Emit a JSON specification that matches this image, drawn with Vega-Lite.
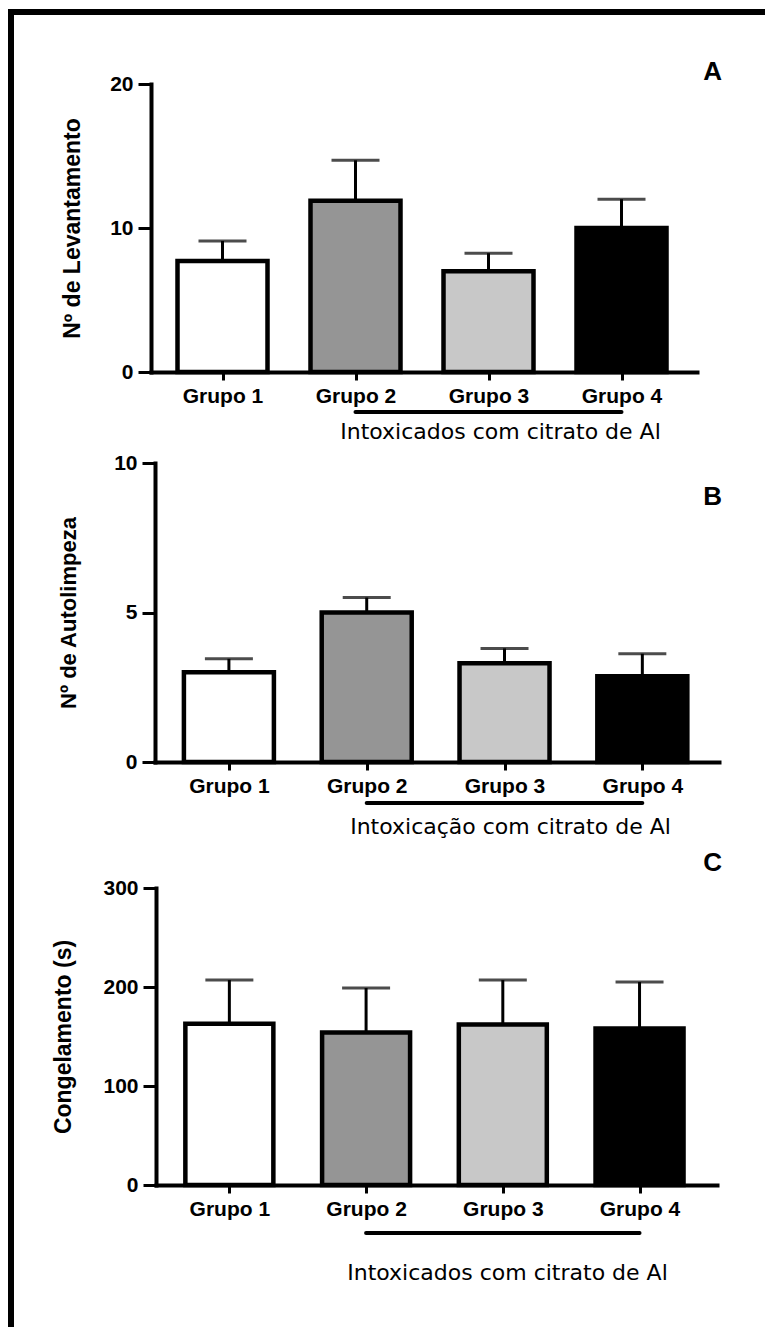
{
  "$schema": "https://vega.github.io/schema/vega-lite/v6.json",
  "background": "white",
  "padding": {"left": 8, "top": 9, "right": 0, "bottom": 0},
  "autosize": {"type": "pad"},
  "bounds": "flush",
  "spacing": 0,
  "config": {
    "view": {"stroke": null},
    "axis": {
      "grid": false,
      "domainColor": "#000000",
      "domainWidth": 4,
      "domainCap": "square",
      "tickColor": "#000000",
      "tickWidth": 3,
      "labelColor": "#000000",
      "labelFont": "Liberation Sans",
      "labelFontWeight": "bold",
      "labelFontSize": 21,
      "titleColor": "#000000",
      "titleFont": "Liberation Sans"
    },
    "axisY": {
      "tickSize": 13,
      "labelPadding": 5,
      "titleFontSize": 23,
      "titleFontWeight": "bold"
    },
    "axisX": {
      "tickSize": 8,
      "labelPadding": 5,
      "labelFontSize": 21,
      "labelFlush": false,
      "labelOverlap": false,
      "titleFont": "DejaVu Sans",
      "titleFontSize": 22,
      "titleFontWeight": "normal",
      "titleBaseline": "alphabetic",
      "titleAlign": "center"
    },
    "title": {
      "font": "Liberation Sans",
      "fontSize": 26,
      "fontWeight": "bold",
      "color": "#000000",
      "anchor": "end",
      "frame": "group",
      "baseline": "alphabetic"
    }
  },
  "vconcat": [
    {
      "width": 757,
      "height": 6,
      "data": {"values": []},
      "mark": "point",
      "encoding": {},
      "view": {"fill": "#000000", "stroke": null}
    },
    {
      "bounds": "flush",
      "spacing": 137,
      "hconcat": [
        {
          "width": 6,
          "height": 1312,
          "data": {"values": []},
          "mark": "point",
          "encoding": {},
          "view": {"fill": "#000000", "stroke": null}
        },
        {
          "bounds": "flush",
          "spacing": 91,
          "vconcat": [
            {
              "width": 546,
              "height": 357,
              "title": {"text": "A", "offset": -70, "dx": 25},
              "data": {"values": [
                {"g": 1, "grupo": "Grupo 1", "mean": 7.7, "upper": 9.1},
                {"g": 2, "grupo": "Grupo 2", "mean": 11.9, "upper": 14.7},
                {"g": 3, "grupo": "Grupo 3", "mean": 7.0, "upper": 8.25},
                {"g": 4, "grupo": "Grupo 4", "mean": 10.0, "upper": 12.0}
              ]},
              "encoding": {
                "x": {
                  "field": "g",
                  "type": "quantitative",
                  "scale": {"domain": [0.5, 4.53], "nice": false, "zero": false},
                  "title": "Intoxicados com citrato de Al",
                  "axis": {"values": [1, 2, 3, 4], "labelExpr": "'Grupo ' + datum.value", "titleX": 349, "titleY": 66}
                }
              },
              "layer": [
                {
                  "mark": {"type": "bar", "orient": "vertical", "size": 90, "stroke": "#000000", "strokeWidth": 4.5},
                  "encoding": {
                    "y": {
                      "field": "mean",
                      "type": "quantitative",
                      "scale": {"domain": [0, 20], "range": [357, 69], "nice": false},
                      "axis": {"values": [0, 10, 20], "titlePadding": 25},
                      "title": "Nº de Levantamento"
                    },
                    "color": {
                      "field": "grupo",
                      "type": "nominal",
                      "scale": {"domain": ["Grupo 1", "Grupo 2", "Grupo 3", "Grupo 4"], "range": ["#ffffff", "#959595", "#c8c8c8", "#000000"]},
                      "legend": null
                    }
                  }
                },
                {
                  "mark": {"type": "rule", "strokeWidth": 3, "color": "#000000"},
                  "encoding": {
                    "y": {"field": "mean", "type": "quantitative", "title": "Nº de Levantamento"},
                    "y2": {"field": "upper"}
                  }
                },
                {
                  "mark": {"type": "tick", "orient": "horizontal", "size": 48, "thickness": 3, "color": "#000000"},
                  "encoding": {
                    "y": {"field": "upper", "type": "quantitative", "title": "Nº de Levantamento"}
                  }
                },
                {
                  "transform": [
                    {"filter": "datum.g >= 2"},
                    {"aggregate": [{"op": "min", "field": "g", "as": "de"}, {"op": "max", "field": "g", "as": "ate"}]}
                  ],
                  "mark": {"type": "rule", "strokeWidth": 4, "strokeCap": "round", "color": "#000000", "clip": false},
                  "encoding": {
                    "x": {"field": "de", "type": "quantitative", "title": "Intoxicados com citrato de Al"},
                    "x2": {"field": "ate"},
                    "y": {"datum": -2.78, "type": "quantitative"}
                  }
                }
              ]
            },
            {
              "width": 568,
              "height": 299,
              "title": {"text": "B", "offset": -58, "dx": 3},
              "data": {"values": [
                {"g": 1, "grupo": "Grupo 1", "mean": 3.0, "upper": 3.45},
                {"g": 2, "grupo": "Grupo 2", "mean": 5.0, "upper": 5.5},
                {"g": 3, "grupo": "Grupo 3", "mean": 3.3, "upper": 3.8},
                {"g": 4, "grupo": "Grupo 4", "mean": 2.87, "upper": 3.62}
              ]},
              "encoding": {
                "x": {
                  "field": "g",
                  "type": "quantitative",
                  "scale": {"domain": [0.5, 4.52], "range": [4, 568], "nice": false, "zero": false},
                  "title": "Intoxicação com citrato de Al",
                  "axis": {"values": [1, 2, 3, 4], "labelExpr": "'Grupo ' + datum.value", "titleX": 359, "titleY": 71}
                }
              },
              "layer": [
                {
                  "mark": {"type": "bar", "orient": "vertical", "size": 90, "stroke": "#000000", "strokeWidth": 4.5},
                  "encoding": {
                    "y": {
                      "field": "mean",
                      "type": "quantitative",
                      "scale": {"domain": [0, 10], "nice": false},
                      "axis": {"values": [0, 5, 10], "offset": -4, "titlePadding": 33, "titleFontSize": 22},
                      "title": "Nº de Autolimpeza"
                    },
                    "color": {
                      "field": "grupo",
                      "type": "nominal",
                      "scale": {"domain": ["Grupo 1", "Grupo 2", "Grupo 3", "Grupo 4"], "range": ["#ffffff", "#959595", "#c8c8c8", "#000000"]},
                      "legend": null
                    }
                  }
                },
                {
                  "mark": {"type": "rule", "strokeWidth": 3, "color": "#000000"},
                  "encoding": {
                    "y": {"field": "mean", "type": "quantitative", "title": "Nº de Autolimpeza"},
                    "y2": {"field": "upper"}
                  }
                },
                {
                  "mark": {"type": "tick", "orient": "horizontal", "size": 48, "thickness": 3, "color": "#000000"},
                  "encoding": {
                    "y": {"field": "upper", "type": "quantitative", "title": "Nº de Autolimpeza"}
                  }
                },
                {
                  "transform": [
                    {"filter": "datum.g >= 2"},
                    {"aggregate": [{"op": "min", "field": "g", "as": "de"}, {"op": "max", "field": "g", "as": "ate"}]}
                  ],
                  "mark": {"type": "rule", "strokeWidth": 4, "strokeCap": "round", "color": "#000000", "clip": false},
                  "encoding": {
                    "x": {"field": "de", "type": "quantitative", "title": "Intoxicação com citrato de Al"},
                    "x2": {"field": "ate"},
                    "y": {"datum": -1.37, "type": "quantitative"}
                  }
                }
              ]
            },
            {
              "width": 566,
              "height": 332,
              "title": {"text": "C", "offset": -23, "dx": 5},
              "data": {"values": [
                {"g": 1, "grupo": "Grupo 1", "mean": 163, "upper": 207},
                {"g": 2, "grupo": "Grupo 2", "mean": 154, "upper": 199},
                {"g": 3, "grupo": "Grupo 3", "mean": 162, "upper": 207},
                {"g": 4, "grupo": "Grupo 4", "mean": 158, "upper": 205}
              ]},
              "encoding": {
                "x": {
                  "field": "g",
                  "type": "quantitative",
                  "scale": {"domain": [0.5, 4.53], "range": [5, 566], "nice": false, "zero": false},
                  "title": "Intoxicados com citrato de Al",
                  "axis": {"values": [1, 2, 3, 4], "labelExpr": "'Grupo ' + datum.value", "titleX": 356, "titleY": 94}
                }
              },
              "layer": [
                {
                  "mark": {"type": "bar", "orient": "vertical", "size": 88, "stroke": "#000000", "strokeWidth": 4.5},
                  "encoding": {
                    "y": {
                      "field": "mean",
                      "type": "quantitative",
                      "scale": {"domain": [0, 300], "range": [332, 35], "nice": false},
                      "axis": {"values": [0, 100, 200, 300], "offset": -5, "titlePadding": 27},
                      "title": "Congelamento (s)"
                    },
                    "color": {
                      "field": "grupo",
                      "type": "nominal",
                      "scale": {"domain": ["Grupo 1", "Grupo 2", "Grupo 3", "Grupo 4"], "range": ["#ffffff", "#959595", "#c8c8c8", "#000000"]},
                      "legend": null
                    }
                  }
                },
                {
                  "mark": {"type": "rule", "strokeWidth": 3, "color": "#000000"},
                  "encoding": {
                    "y": {"field": "mean", "type": "quantitative", "title": "Congelamento (s)"},
                    "y2": {"field": "upper"}
                  }
                },
                {
                  "mark": {"type": "tick", "orient": "horizontal", "size": 48, "thickness": 3, "color": "#000000"},
                  "encoding": {
                    "y": {"field": "upper", "type": "quantitative", "title": "Congelamento (s)"}
                  }
                },
                {
                  "transform": [
                    {"filter": "datum.g >= 2"},
                    {"aggregate": [{"op": "min", "field": "g", "as": "de"}, {"op": "max", "field": "g", "as": "ate"}]}
                  ],
                  "mark": {"type": "rule", "strokeWidth": 4, "strokeCap": "round", "color": "#000000", "clip": false},
                  "encoding": {
                    "x": {"field": "de", "type": "quantitative", "title": "Intoxicados com citrato de Al"},
                    "x2": {"field": "ate"},
                    "y": {"datum": -48.5, "type": "quantitative"}
                  }
                }
              ]
            }
          ]
        }
      ]
    }
  ]
}
